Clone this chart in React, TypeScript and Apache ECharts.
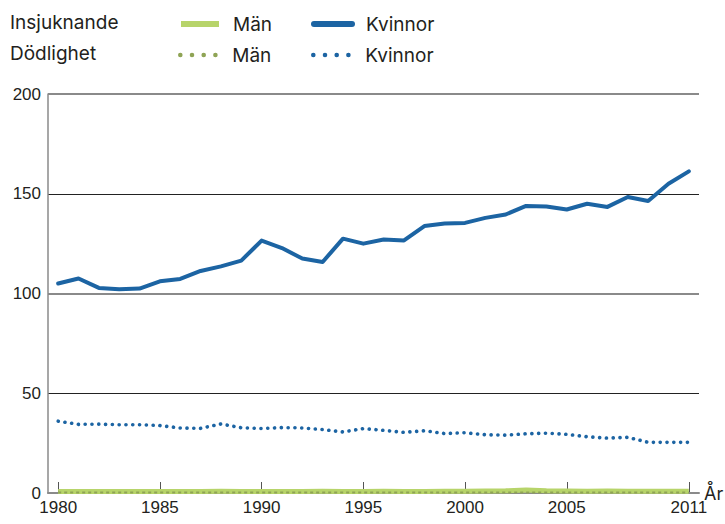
import React, { useEffect, useRef } from "react";
import * as echarts from "echarts";

const years = [
  "1980", "1981", "1982", "1983", "1984", "1985", "1986", "1987", "1988", "1989",
  "1990", "1991", "1992", "1993", "1994", "1995", "1996", "1997", "1998", "1999",
  "2000", "2001", "2002", "2003", "2004", "2005", "2006", "2007", "2008", "2009",
  "2010", "2011",
];
const shownYears = ["1980", "1985", "1990", "1995", "2000", "2005", "2011"];

const insjKvinnor = [
  105, 107.5, 102.8, 102.1, 102.5, 106.1, 107.3, 111.3, 113.6, 116.5,
  126.5, 122.8, 117.5, 115.8, 127.5, 125, 127.1, 126.6, 133.8, 135.1,
  135.4, 137.9, 139.6, 143.9, 143.6, 142.1, 145, 143.4, 148.4, 146.4,
  155, 161.2,
];
const dodKvinnor = [
  36, 34.4, 34.5, 34.2, 34.2, 33.8, 32.6, 32.4, 34.6, 32.7,
  32.3, 32.8, 32.6, 31.8, 30.6, 32.3, 31.4, 30.4, 31.2, 29.8,
  30.2, 29.2, 29, 29.7, 30, 29.4, 28.2, 27.5, 27.9, 25.4,
  25.4, 25.4,
];
const insjMan = [
  0.8, 0.8, 0.7, 0.7, 0.8, 0.8, 0.7, 0.8, 0.9, 0.8,
  0.8, 0.7, 0.8, 0.9, 0.8, 0.8, 0.9, 0.8, 0.8, 0.9,
  0.9, 1.0, 1.1, 1.5, 1.1, 1.0, 0.9, 1.0, 0.9, 0.9,
  0.9, 0.9,
];
const dodMan = [
  0.2, 0.2, 0.2, 0.2, 0.2, 0.2, 0.2, 0.2, 0.2, 0.2,
  0.2, 0.2, 0.2, 0.2, 0.2, 0.2, 0.2, 0.2, 0.2, 0.2,
  0.2, 0.2, 0.2, 0.2, 0.2, 0.2, 0.2, 0.2, 0.2, 0.2,
  0.2, 0.2,
];
const yTicks = [0, 50, 100, 150, 200];

const BLUE = "#1c64a3";
const GREEN = "#b7d46a";
const TEXT = "#231f20";
const LEGEND_FONT = "Inter, 'Noto Sans', sans-serif";
const AXIS_FONT = "'Liberation Sans', Arial, sans-serif";

export default function App() {
  const ref = useRef<HTMLDivElement>(null);

  useEffect(() => {
    if (!ref.current) return;
    const chart = echarts.init(ref.current, undefined, { renderer: "svg" });

    const legendBase = (name: string, left: number, top: number, lineStyle: any) => ({
      data: [{ name, lineStyle, itemStyle: { opacity: 0 } }],
      left,
      top,
      padding: 0,
      itemWidth: 38,
      itemHeight: 8,
      formatter: (n: string) => n.split(" ")[1],
      textStyle: {
        fontFamily: LEGEND_FONT,
        fontSize: 19,
        color: TEXT,
        lineHeight: 20,
        padding: [0, 0, 0, 9],
      },
      selectedMode: false,
    });

    const dotted = { type: [0.1, 6.7], cap: "round", width: 3.6 };

    chart.setOption({
      animation: false,
      backgroundColor: "#ffffff",
      grid: {
        left: 48,
        right: 26,
        top: 94,
        bottom: 31,
        containLabel: false,
        outerBoundsMode: "none",
      },
      graphic: [
        {
          type: "text",
          left: 10,
          top: 13,
          style: { text: "Insjuknande", font: `19px ${LEGEND_FONT}`, fill: TEXT },
        },
        {
          type: "text",
          left: 10,
          top: 44,
          style: { text: "Dödlighet", font: `19px ${LEGEND_FONT}`, fill: TEXT },
        },
      ],
      legend: [
        legendBase("Insjuknande Män", 178, 14, { width: 6, type: "solid" }),
        legendBase("Insjuknande Kvinnor", 311, 14, { width: 6, type: "solid" }),
        legendBase("Dödlighet Män", 178, 45, { width: 4.5, type: [0.1, 11.6], cap: "round" }),
        legendBase("Dödlighet Kvinnor", 311, 45, { width: 4.5, type: [0.1, 11.6], cap: "round" }),
      ],
      xAxis: {
        type: "category",
        data: years,
        boundaryGap: true,
        name: "År",
        nameLocation: "end",
        nameGap: 5,
        nameMoveOverlap: false,
        nameTextStyle: {
          fontFamily: LEGEND_FONT,
          fontSize: 18,
          color: TEXT,
          padding: [0, 0, 8, 0],
        },
        axisLine: { show: true, lineStyle: { color: "#8a8a8a", width: 2 } },
        axisTick: {
          show: true,
          inside: true,
          length: 11,
          alignWithLabel: true,
          interval: (i: number) => shownYears.includes(years[i]),
          lineStyle: { color: "#555", width: 1 },
        },
        axisLabel: {
          interval: (i: number) => shownYears.includes(years[i]),
          fontFamily: AXIS_FONT,
          fontSize: 17,
          color: TEXT,
          margin: 6,
        },
        splitLine: { show: false },
      },
      yAxis: [
        {
          type: "value",
          min: yTicks[0],
          max: yTicks[yTicks.length - 1],
          interval: 50,
          z: 0,
          axisLine: { show: true, lineStyle: { color: "#8a8a8a", width: 1.5 } },
          axisTick: { show: false },
          axisLabel: {
            fontFamily: AXIS_FONT,
            fontSize: 17,
            color: TEXT,
            margin: 7,
          },
          splitLine: { show: true, lineStyle: { color: "#222", width: 1 } },
        },
        {
          type: "value",
          min: yTicks[0],
          max: yTicks[yTicks.length - 1],
          interval: 100,
          position: "left",
          z: 1,
          axisLine: { show: false },
          axisTick: { show: false },
          axisLabel: { show: false },
          splitLine: { show: true, lineStyle: { color: "#8a8a8a", width: 2 } },
        },
      ],
      series: [
        {
          name: "Insjuknande Män",
          type: "line",
          data: insjMan,
          symbol: "none",
          color: GREEN,
          lineStyle: { color: GREEN, width: 5, join: "round" },
          z: 2,
        },
        {
          name: "Dödlighet Män",
          type: "line",
          data: dodMan,
          symbol: "none",
          color: GREEN,
          lineStyle: { color: "#8fa455", width: 2, type: [3, 3], cap: "butt" },
          z: 3,
        },
        {
          name: "Dödlighet Kvinnor",
          type: "line",
          data: dodKvinnor,
          symbol: "none",
          color: BLUE,
          lineStyle: { color: BLUE, ...dotted, join: "round" },
          z: 4,
        },
        {
          name: "Insjuknande Kvinnor",
          type: "line",
          data: insjKvinnor,
          symbol: "none",
          color: BLUE,
          lineStyle: { color: BLUE, width: 4, join: "round", cap: "round" },
          z: 5,
        },
      ],
    });

    return () => chart.dispose();
  }, []);

  return <div ref={ref} style={{ width: 725, height: 524, position: "fixed", left: 0, top: 0 }} />;
}
